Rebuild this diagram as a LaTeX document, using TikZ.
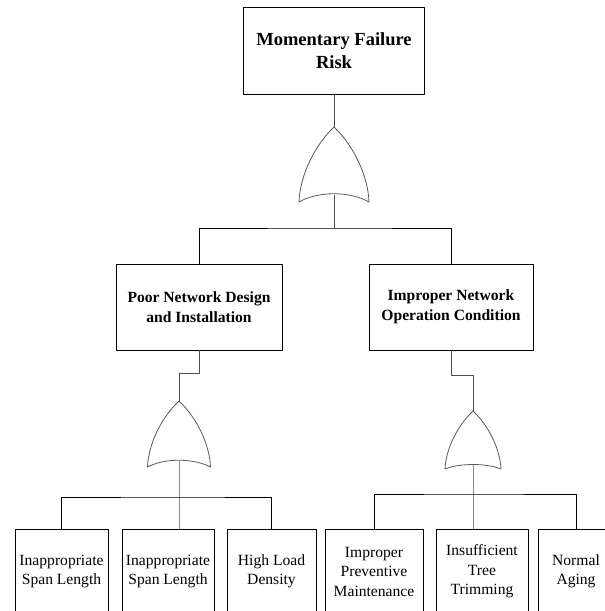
\documentclass[tikz,border=0pt]{standalone}
\usepackage{fontspec}
\setmainfont{Liberation Serif}
\usepackage{tikz}
\usetikzlibrary{positioning}

\tikzset{
  box/.style={draw=black,line width=0.9bp,inner sep=0pt,align=center},
  topbox/.style={box,minimum width=181bp,minimum height=87bp,font=\fontsize{18.5bp}{23bp}\selectfont\bfseries},
  midbox/.style={box,minimum height=86bp,font=\fontsize{15.6bp}{20bp}\selectfont\bfseries},
  leafbox/.style={box,minimum height=85bp,font=\fontsize{15.6bp}{19.5bp}\selectfont},
  gate/.style={draw=black!65,line width=0.8bp,line join=round},
  link/.style={draw=black!70,line width=0.9bp},
  bus/.style={draw=black,line width=0.9bp},
  stem/.style={draw=black!45,line width=0.8bp}
}

\begin{document}
\begin{tikzpicture}[line join=bevel]
\useasboundingbox (0bp,0bp) rectangle (605bp,611bp);
\clip (0bp,0bp) rectangle (605bp,611bp);
%%
\node (node_0) at (334bp,560.5bp) [topbox] {Momentary Failure\\Risk};
  \node (node_1) at (199bp,304bp) [midbox,minimum width=166bp] {Poor Network Design\\and Installation};
  \node (node_2) at (451bp,304bp) [midbox,minimum width=164bp] {Improper Network\\Operation Condition};
  \node (node_3) at (61.5bp,39.5bp) [leafbox,minimum width=93bp] {Inappropriate\\Span Length};
  \node (node_4) at (168bp,39.5bp) [leafbox,minimum width=92bp] {Inappropriate\\Span Length};
  \node (node_5) at (271.5bp,39.5bp) [leafbox,minimum width=89bp] {High Load\\Density};
  \node (node_6) at (374bp,39.5bp) [leafbox,minimum width=98bp] {Improper\\Preventive\\Maintenance};
  \node (node_7) at (482bp,39.5bp) [leafbox,minimum width=92bp] {Insufficient\\Tree\\Trimming};
  \node (node_8) at (576bp,39.5bp) [leafbox,minimum width=76bp] {Normal\\Aging};
%
  \coordinate (or_0_in) at (334bp,484bp);
  \coordinate (or_0_out) at (334bp,416bp);
  \coordinate (bus_0) at (334bp,383bp);
  \coordinate (or_1_in) at (179bp,210bp);
  \coordinate (or_1_out) at (179bp,150bp);
  \coordinate (bend_1) at (179bp,238bp);
  \coordinate (bus_1) at (179bp,114bp);
  \coordinate (or_2_in) at (473bp,200bp);
  \coordinate (or_2_out) at (473bp,146bp);
  \coordinate (bend_2) at (473bp,236bp);
  \coordinate (bus_2) at (473bp,117bp);
%
  \draw [gate] (or_0_in) ..controls (315bp,466bp) and (300bp,436bp) .. (299bp,409bp)
    ..controls (318bp,420bp) and (350bp,420bp) .. (369bp,409bp)
    ..controls (368bp,436bp) and (353bp,466bp) .. cycle;
  \draw [gate] (or_1_in) ..controls (162bp,194bp) and (148.5bp,168bp) .. (147.5bp,144bp)
    ..controls (164.5bp,153bp) and (193.5bp,153bp) .. (210.5bp,144bp)
    ..controls (209.5bp,168bp) and (196bp,194bp) .. cycle;
  \draw [gate] (or_2_in) ..controls (458bp,186bp) and (446bp,163bp) .. (445bp,142bp)
    ..controls (460bp,148bp) and (486bp,148bp) .. (501bp,142bp)
    ..controls (500bp,163bp) and (488bp,186bp) .. cycle;
%
  \draw [link] (node_0) -- (or_0_in);
  \draw [link] (or_0_out) -- (bus_0);
  \draw [bus] (node_1.north) |- (bus_0) -| (node_2.north);
  \draw [link] (node_1.south) |- (bend_1) -- (or_1_in);
  \draw [link] (node_2.south) |- (bend_2) -- (or_2_in);
  \draw [stem] (or_1_out) -- (or_1_out |- node_4.north);
  \draw [bus] (node_3.north) |- (bus_1) -| (node_5.north);
  \draw [stem] (or_2_out) -- (or_2_out |- node_7.north);
  \draw [bus] (node_6.north) |- (bus_2) -| (node_8.north);
%
\end{tikzpicture}
\end{document}
